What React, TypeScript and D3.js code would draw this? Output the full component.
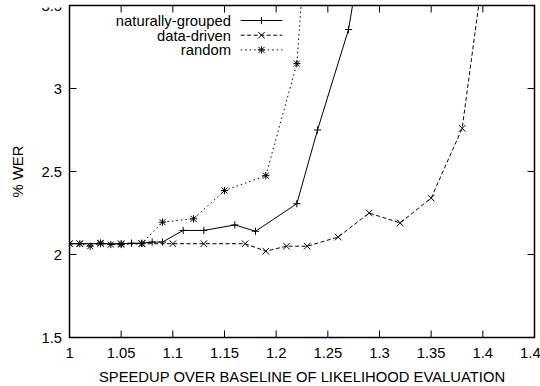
import React from "react";
import * as d3 from "d3";

const xTicks = [1, 1.05, 1.1, 1.15, 1.2, 1.25, 1.3, 1.35, 1.4, 1.45];
const xTickLabels = ["1", "1.05", "1.1", "1.15", "1.2", "1.25", "1.3", "1.35", "1.4", "1.45"];
const yTicks = [1.5, 2, 2.5, 3, 3.5];
const yTickLabels = ["1.5", "2", "2.5", "3", "3.5"];

const naturalX = [1.0, 1.03, 1.05, 1.06, 1.07, 1.08, 1.09, 1.11, 1.13, 1.16, 1.18, 1.22, 1.24, 1.27, 1.29];
const naturalY = [2.065, 2.065, 2.065, 2.068, 2.068, 2.075, 2.075, 2.145, 2.145, 2.178, 2.14, 2.306, 2.75, 3.355, 4.1];

const dataX = [1.0, 1.01, 1.03, 1.05, 1.07, 1.1, 1.13, 1.17, 1.19, 1.21, 1.23, 1.26, 1.29, 1.32, 1.35, 1.38, 1.41];
const dataY = [2.065, 2.065, 2.065, 2.065, 2.065, 2.065, 2.065, 2.065, 2.02, 2.05, 2.05, 2.105, 2.25, 2.19, 2.34, 2.76, 4.15];

const randomX = [1.0, 1.01, 1.02, 1.03, 1.04, 1.05, 1.07, 1.09, 1.12, 1.15, 1.19, 1.22, 1.23];
const randomY = [2.065, 2.065, 2.05, 2.07, 2.06, 2.06, 2.066, 2.195, 2.215, 2.385, 2.475, 3.15, 4.0];

const seriesNames = ["naturally-grouped", "data-driven", "random"];

const W = 540;
const H = 386;
const L = 69.5, R = 534.5, T = 5.5, B = 337.5;
const FONT = "'Liberation Sans', Arial, Helvetica, sans-serif";
const FS = 14.8;

type Kind = "plus" | "cross" | "star";

function Marker({ x, y, kind }: { x: number; y: number; kind: Kind }) {
  const s = 3.6;
  const parts: string[] = [];
  if (kind === "plus" || kind === "star") {
    parts.push(`M${x - s},${y}H${x + s}M${x},${y - s}V${y + s}`);
  }
  if (kind === "cross" || kind === "star") {
    const c = kind === "star" ? 3.0 : 3.3;
    parts.push(`M${x - c},${y - c}L${x + c},${y + c}M${x - c},${y + c}L${x + c},${y - c}`);
  }
  return <path d={parts.join("")} stroke="#000" strokeWidth={1} fill="none" />;
}

export default function App() {
  const x = d3.scaleLinear().domain([1, 1.45]).range([L, R]);
  const y = d3.scaleLinear().domain([1.5, 3.5]).range([B, T]);
  const line = d3
    .line<[number, number]>()
    .x((d) => x(d[0]))
    .y((d) => y(d[1]));

  const series = [
    { name: seriesNames[0], xs: naturalX, ys: naturalY, dash: undefined as string | undefined, kind: "plus" as Kind },
    { name: seriesNames[1], xs: dataX, ys: dataY, dash: "4,2.5", kind: "cross" as Kind },
    { name: seriesNames[2], xs: randomX, ys: randomY, dash: "1.5,3", kind: "star" as Kind },
  ];

  const legendRows = [20.5, 35.2, 49.9];
  const tick = 7;

  return (
    <svg
      width={W}
      height={H}
      style={{ position: "absolute", left: 0, top: 0, background: "#fff" }}
      fontFamily={FONT}
      fontSize={FS}
    >
      <defs>
        <clipPath id="plotclip">
          <rect x={L} y={T} width={R - L} height={B - T} />
        </clipPath>
        <clipPath id="ylabclip">
          <rect x={0} y={7.5} width={L} height={H} />
        </clipPath>
      </defs>
      <rect x={0} y={0} width={W} height={H} fill="#fff" />

      {/* ticks */}
      {xTicks.map((t, i) => (
        <g key={"xt" + i}>
          <line x1={x(t)} x2={x(t)} y1={B} y2={B - tick} stroke="#000" strokeWidth={1} />
          <line x1={x(t)} x2={x(t)} y1={T} y2={T + tick} stroke="#000" strokeWidth={1} />
          <text x={x(t)} y={358.3} textAnchor="middle" fill="#000">
            {xTickLabels[i]}
          </text>
        </g>
      ))}
      <g clipPath="url(#ylabclip)">
        {yTicks.map((t, i) => (
          <text key={"yl" + i} x={62} y={y(t)} dy="0.36em" textAnchor="end" fill="#000">
            {yTickLabels[i]}
          </text>
        ))}
      </g>
      {yTicks.map((t, i) => (
        <g key={"yt" + i}>
          <line x1={L} x2={L + tick} y1={y(t)} y2={y(t)} stroke="#000" strokeWidth={1} />
          <line x1={R} x2={R - tick} y1={y(t)} y2={y(t)} stroke="#000" strokeWidth={1} />
        </g>
      ))}

      {/* series */}
      <g clipPath="url(#plotclip)">
        {series.map((s, si) => {
          const pts: [number, number][] = s.xs.map((v, i) => [v, s.ys[i]]);
          return (
            <g key={"s" + si}>
              <path d={line(pts) || ""} fill="none" stroke="#000" strokeWidth={1} strokeDasharray={s.dash} />
              {pts.map((p, i) => (
                <Marker key={i} x={x(p[0])} y={y(p[1])} kind={s.kind} />
              ))}
            </g>
          );
        })}
      </g>

      {/* legend */}
      {series.map((s, si) => (
        <g key={"lg" + si}>
          <text x={231} y={legendRows[si]} dy="0.36em" textAnchor="end" fill="#000">
            {s.name}
          </text>
          <line
            x1={240.7}
            x2={282.3}
            y1={legendRows[si]}
            y2={legendRows[si]}
            stroke="#000"
            strokeWidth={1}
            strokeDasharray={s.dash}
          />
          <Marker x={261.5} y={legendRows[si]} kind={s.kind} />
        </g>
      ))}

      {/* frame */}
      <rect x={L} y={T} width={R - L} height={B - T} fill="none" stroke="#000" strokeWidth={1.5} />

      {/* axis titles */}
      <text x={(L + R) / 2} y={381.5} textAnchor="middle" fill="#000">
        SPEEDUP OVER BASELINE OF LIKELIHOOD EVALUATION
      </text>
      <text transform={`translate(23.3, ${(T + B) / 2}) rotate(-90)`} textAnchor="middle" fill="#000">
        % WER
      </text>
    </svg>
  );
}
